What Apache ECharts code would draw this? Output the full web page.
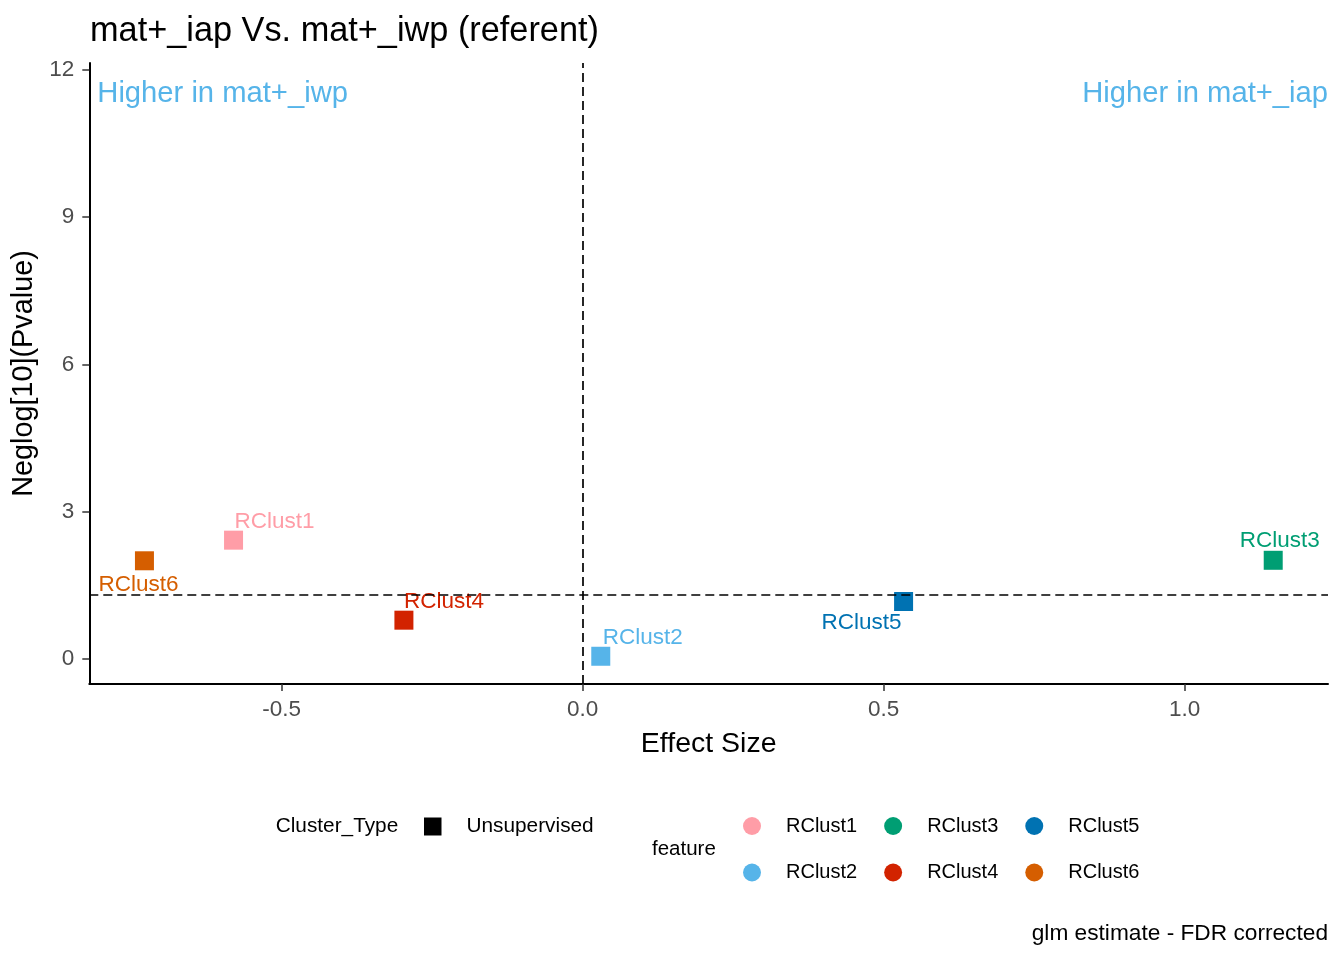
<!DOCTYPE html>
<html>
<head>
<meta charset="utf-8">
<script src="https://cdn.jsdelivr.net/npm/echarts@6/dist/echarts.min.js"></script>
<style>html,body{margin:0;padding:0;background:#fff}#c{width:1344px;height:960px}</style>
</head>
<body>
<div id="c"></div>
<script>
// ---- data ----
const features = ['RClust1', 'RClust2', 'RClust3', 'RClust4', 'RClust5', 'RClust6'];
const effectSize = [-0.580, 0.030, 1.147, -0.297, 0.533, -0.728];
const negLogP = [2.42, 0.055, 2.01, 0.79, 1.17, 2.00];
const clusterTypes = ['Unsupervised'];
const pThreshold = 1.301;
const xTicks = [-0.5, 0.0, 0.5, 1.0];
const yTicks = [0, 3, 6, 9, 12];

// ---- style ----
const FONT = 'Liberation Sans, Arial, sans-serif';
const colors = {
  RClust1: '#FF9DA7', RClust2: '#56B4E9', RClust3: '#009E73',
  RClust4: '#D22300', RClust5: '#0072B2', RClust6: '#D55E00'
};
const labelStyle = {
  RClust1: { align: 'left', offset: [1, -18] },
  RClust2: { align: 'left', offset: [2, -18.5] },
  RClust3: { align: 'left', offset: [-33.5, -19] },
  RClust4: { align: 'left', offset: [0, -18.5] },
  RClust5: { align: 'right', offset: [-2, 21.5] },
  RClust6: { align: 'left', offset: [-46, 24] }
};

const chart = echarts.init(document.getElementById('c'), null, { renderer: 'canvas' });

const series = features.map((f, i) => ({
  type: 'scatter',
  name: f,
  symbol: 'rect',
  symbolSize: 19,
  itemStyle: { color: colors[f], opacity: 1 },
  data: [[effectSize[i], negLogP[i]]],
  label: {
    show: true,
    formatter: f,
    position: 'inside',
    align: labelStyle[f].align,
    verticalAlign: 'middle',
    offset: labelStyle[f].offset,
    color: colors[f],
    fontSize: 22.5,
    fontFamily: FONT
  },
  emphasis: { disabled: true },
  z: 3
}));

series.push({
  type: 'scatter',
  name: clusterTypes[0],
  symbol: 'rect',
  itemStyle: { color: '#000' },
  data: [],
  markLine: {
    silent: true,
    symbol: 'none',
    label: { show: false },
    lineStyle: { color: '#000', type: [9, 5], width: 1.7 },
    emphasis: { disabled: true },
    data: [{ yAxis: pThreshold }, { xAxis: 0 }]
  },
  z: 2
});

const legendCommon = {
  orient: 'horizontal',
  padding: 0,
  itemWidth: 18,
  itemHeight: 18,
  selectedMode: false,
  textStyle: { color: '#000', fontSize: 20, fontFamily: FONT, padding: [0, 0, 0, 20] }
};

chart.setOption({
  animation: false,
  backgroundColor: '#fff',
  title: {
    text: 'mat+_iap Vs. mat+_iwp (referent)',
    left: 85,
    top: 10,
    textStyle: { color: '#000', fontSize: 34.3, fontWeight: 'normal', fontFamily: FONT }
  },
  grid: { left: 89.3, top: 63, width: 1238.7, height: 621, containLabel: false },
  xAxis: {
    type: 'value',
    min: -0.8196,
    max: 1.238,
    name: 'Effect Size',
    nameLocation: 'middle',
    nameGap: 45.5,
    nameTextStyle: { color: '#000', fontSize: 28.5, fontFamily: FONT },
    axisLine: { show: true, onZero: false, lineStyle: { color: '#000', width: 2 } },
    axisTick: { show: true, length: 7, lineStyle: { color: '#333', width: 1.5 }, customValues: xTicks },
    axisLabel: {
      show: true, margin: 14, color: '#4D4D4D', fontSize: 22.5, fontFamily: FONT,
      customValues: xTicks, formatter: v => v.toFixed(1)
    },
    splitLine: { show: false }
  },
  yAxis: {
    type: 'value',
    min: -0.51,
    max: 12.14,
    name: 'Neglog[10](Pvalue)',
    nameLocation: 'middle',
    nameGap: 44,
    nameTextStyle: { color: '#000', fontSize: 28.8, fontFamily: FONT },
    axisLine: { show: true, onZero: false, lineStyle: { color: '#000', width: 2 } },
    axisTick: { show: true, length: 7, lineStyle: { color: '#333', width: 1.5 }, customValues: yTicks },
    axisLabel: {
      show: true, margin: 15, color: '#4D4D4D', fontSize: 22.5, fontFamily: FONT,
      padding: [4, 0, 0, 0],
      customValues: yTicks, formatter: v => String(v)
    },
    splitLine: { show: false }
  },
  legend: [
    Object.assign({}, legendCommon, {
      data: [{ name: clusterTypes[0], icon: 'rect', itemStyle: { color: '#000', opacity: 1 } }],
      left: 424, top: 816, itemWidth: 17.5, itemHeight: 18,
      textStyle: { color: '#000', fontSize: 20.8, fontFamily: FONT, padding: [0, 0, 0, 20] }
    }),
    Object.assign({}, legendCommon, { data: ['RClust1', 'RClust3', 'RClust5'], icon: 'circle', left: 743, top: 816, itemGap: 27 }),
    Object.assign({}, legendCommon, { data: ['RClust2', 'RClust4', 'RClust6'], icon: 'circle', left: 743, top: 862.5, itemGap: 27 })
  ],
  graphic: [
    { type: 'text', x: 97.3, y: 93.5, style: { text: 'Higher in mat+_iwp', fill: '#56B4E9', fontSize: 29.2, fontFamily: FONT, align: 'left', verticalAlign: 'middle' } },
    { type: 'text', x: 1328, y: 93.5, style: { text: 'Higher in mat+_iap', fill: '#56B4E9', fontSize: 29.2, fontFamily: FONT, align: 'right', verticalAlign: 'middle' } },
    { type: 'text', x: 275.7, y: 826.5, style: { text: 'Cluster_Type', fill: '#000', fontSize: 20.8, fontFamily: FONT, align: 'left', verticalAlign: 'middle' } },
    { type: 'text', x: 652, y: 849, style: { text: 'feature', fill: '#000', fontSize: 20.5, fontFamily: FONT, align: 'left', verticalAlign: 'middle' } },
    { type: 'text', x: 1328, y: 934, style: { text: 'glm estimate - FDR corrected', fill: '#000', fontSize: 22.7, fontFamily: FONT, align: 'right', verticalAlign: 'middle' } }
  ],
  series: series
});
</script>
</body>
</html>
